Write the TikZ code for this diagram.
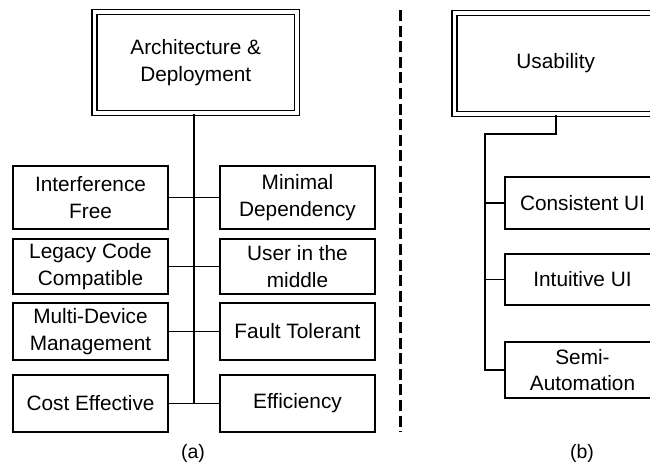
\documentclass[tikz,border=0pt]{standalone}
\usepackage{fontspec}
\setmainfont{Liberation Sans}
\begin{document}
\begin{tikzpicture}[x=1pt,y=-1pt,
  font=\fontsize{20.8}{26.5}\selectfont,
  leaf/.style={draw, line width=1.4pt, align=center, inner sep=0pt, minimum width=155pt},
  headbox/.style={draw, line width=1.5pt, double=white, double distance=3.5pt,
    align=center, inner sep=0pt, minimum width=202.5pt, minimum height=101pt},
  trunk/.style={line width=2.3pt},
  branch/.style={line width=1.4pt},
  divider/.style={line width=3pt, dash pattern=on 11pt off 4.6pt},
  caption/.style={font=\fontsize{19.5}{24}\selectfont}]
\clip (0,0) rectangle (650,472);

% ---------- (a) Architecture & Deployment ----------
\node[headbox] (arch) at (195.75,62.5) {Architecture \&\\Deployment};

\node[leaf, minimum height=63pt] (interf)  at (90.5,197.5)  {Interference\\Free};
\node[leaf, minimum height=55pt] (legacy)  at (90.5,266.5)  {Legacy Code\\Compatible};
\node[leaf, minimum height=57pt] (multi)   at (90.5,331.5)  {Multi-Device\\Management};
\node[leaf, minimum height=57pt] (cost)    at (90.5,403.5)  {Cost Effective};

\node[leaf, minimum height=63pt] (minimal) at (297.5,197.5) {Minimal\\Dependency};
\node[leaf, minimum height=55pt] (user)    at (297.5,266.5) {User in the\\middle};
\node[leaf, minimum height=57pt] (fault)   at (297.5,331.5) {Fault Tolerant};
\node[leaf, minimum height=57pt] (effic)   at (297.5,403.5) {Efficiency};

\coordinate (trunkend) at (194,403.5);
\draw[trunk] (arch.south -| trunkend) -- (trunkend);
\draw[branch] (interf.east) -- (minimal.west);
\draw[branch] (legacy.east) -- (user.west);
\draw[branch] (multi.east)  -- (fault.west);
\draw[branch] (cost.east)   -- (effic.west);

\node[caption] (capa) at (193,453) {(a)};

% ---------- separator ----------
\coordinate (divtop) at (400.7,10);
\coordinate (divbot) at (400.7,432);
\draw[divider] (divtop) -- (divbot);

% ---------- (b) Usability ----------
\node[headbox] (usab) at (555.75,63.5) {Usability};

\node[leaf, minimum height=52pt] (consist) at (582.5,203)   {Consistent UI};
\node[leaf, minimum height=51pt] (intuit)  at (582.5,279.5) {Intuitive UI};
\node[leaf, minimum height=56pt] (semi)    at (582.5,370)   {Semi-\\Automation};

\coordinate (bend) at (485,134);
\draw[trunk, line join=miter] (usab.south) |- (bend) -- (bend |- semi.west) -- (semi.west);
\draw[branch] (consist.west) -- (consist.west -| bend);
\draw[branch] (intuit.west)  -- (intuit.west -| bend);

\node[caption] (capb) at (582,453) {(b)};
\end{tikzpicture}
\end{document}
